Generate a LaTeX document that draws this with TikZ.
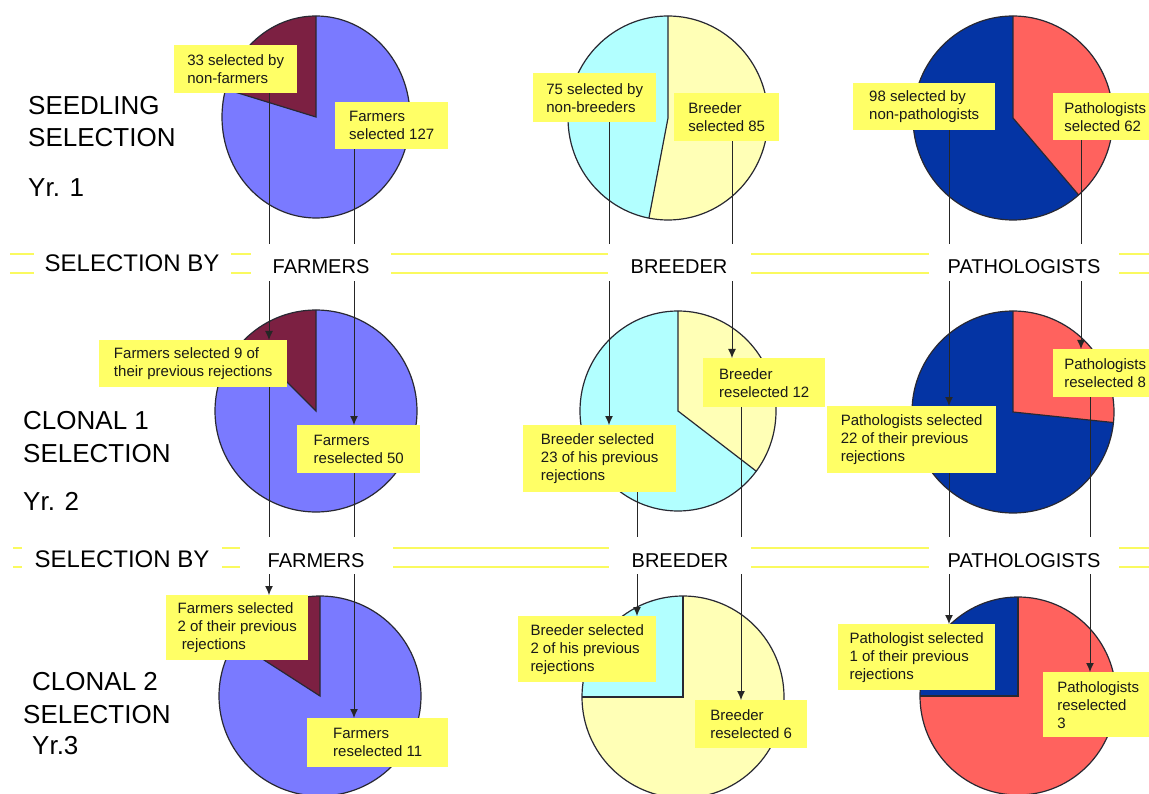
\documentclass[tikz,border=0pt]{standalone}
\usepackage{fontspec}
\setmainfont{Liberation Sans}
\usetikzlibrary{arrows.meta}
\definecolor{farmblue}{RGB}{122,122,255}
\definecolor{maroonc}{RGB}{124,32,66}
\definecolor{lcyan}{RGB}{178,255,255}
\definecolor{lyellow}{RGB}{255,255,182}
\definecolor{dblue}{RGB}{4,52,164}
\definecolor{salmon}{RGB}{255,98,94}
\definecolor{boxyellow}{RGB}{255,255,102}
\definecolor{sepyellow}{RGB}{250,250,95}
\definecolor{outline}{RGB}{40,40,50}
\tikzset{
 ybox/.style={fill=boxyellow, anchor=north west, align=left, inner sep=0pt, font=\fontsize{15}{18}\selectfont, text=black!90},
 conn/.style={draw=black!85, line width=1pt},
 arr/.style={conn, -{Latex[length=9pt,width=8pt]}},
 pieline/.style={draw=outline, line width=1.2pt},
 seprule/.style={draw=sepyellow, line width=2pt},
 role/.style={fill=white, anchor=base, font=\fontsize{20}{24}\selectfont, text height=23pt, text depth=0pt, inner ysep=7pt, inner xsep=0pt},
 selby/.style={role, font=\fontsize{24}{28}\selectfont},
 title/.style={anchor=base west, font=\fontsize{26}{30}\selectfont, inner sep=0pt},
}
\newcommand\mypie[7]{%
 \begin{scope}[shift={(#1,#2)},yscale=-1]
  \fill[#5] (0,0) ellipse[x radius=#3,y radius=#4];
  \fill[#6] (0,0) -- (90:#3 and #4) arc[start angle=90,end angle=#7,x radius=#3,y radius=#4] -- cycle;
  \draw[pieline] (0,0) ellipse[x radius=#3,y radius=#4];
  \draw[pieline] (90:#3 and #4) -- (0,0) -- (#7:#3 and #4);
 \end{scope}}
\begin{document}
\begin{tikzpicture}[x=1pt,y=-1pt]
\useasboundingbox[fill=white] (0,0) rectangle (1149,794);
% pies
\mypie{316}{117}{94}{101}{farmblue}{maroonc}{164}
\mypie{668}{118}{100}{102}{lyellow}{lcyan}{259}
\mypie{1013}{118}{100}{102}{dblue}{salmon}{-49}
\mypie{316}{411}{101}{101}{farmblue}{maroonc}{135}
\mypie{678}{411}{98}{100}{lcyan}{lyellow}{-37}
\mypie{1013}{412}{101}{101}{dblue}{salmon}{-6}
\mypie{320}{696}{101}{100}{farmblue}{maroonc}{147}
\mypie{683}{697}{101}{101}{lyellow}{lcyan}{180}
\mypie{1018}{696}{98}{99}{salmon}{dblue}{180}
% separator rules
\draw[seprule] (10,254) -- (1149,254);
\draw[seprule] (10,273) -- (1149,273);
\draw[seprule] (13,548) -- (1149,548);
\draw[seprule] (13,567) -- (1149,567);
% boxes row 1
\node[ybox, minimum width=123, minimum height=48] (A1) at (174,45) {33 selected by\\non-farmers};
\node[ybox, minimum width=113, minimum height=47] (A2) at (335,102) {Farmers\\selected 127};
\node[ybox, minimum width=123, minimum height=49] (A3) at (533,73) {75 selected by\\non-breeders};
\node[ybox, minimum width=105, minimum height=48] (A4) at (674,93) {Breeder\\selected 85};
\node[ybox, minimum width=142, minimum height=47] (A5) at (853,83) {98 selected by\\non-pathologists};
\node[ybox, minimum width=104, minimum height=47] (A6) at (1053,93) {Pathologists\\selected 62};
% boxes row 2
\node[ybox, minimum width=188, minimum height=47] (B1) at (99,340) {Farmers selected 9 of\\their previous rejections};
\node[ybox, minimum width=123, minimum height=48] (B2) at (297,425) {Farmers\\reselected 50};
\node[ybox, minimum width=153, minimum height=67] (B3) at (523,425) {Breeder selected\\23 of his previous\\rejections};
\node[ybox, minimum width=122, minimum height=49] (B4) at (703,358) {Breeder\\reselected 12};
\node[ybox, minimum width=169, minimum height=67] (B5) at (827,406) {Pathologists selected\\22 of their previous\\rejections};
\node[ybox, minimum width=104, minimum height=48] (B6) at (1053,349) {Pathologists\\reselected 8};
% boxes row 3
\node[ybox, minimum width=142, minimum height=65] (C1) at (166,595) {Farmers selected\\2 of their previous\\\ rejections};
\node[ybox, minimum width=141, minimum height=49] (C2) at (307,718) {Farmers\\reselected 11};
\node[ybox, minimum width=138, minimum height=66] (C3) at (518,616) {Breeder selected\\2 of his previous\\rejections};
\node[ybox, minimum width=112, minimum height=48] (C4) at (695,700) {Breeder\\reselected 6};
\node[ybox, minimum width=157, minimum height=66] (C5) at (838,624) {Pathologist selected\\1 of their previous\\rejections};
\node[ybox, minimum width=110, minimum height=65] (C6) at (1043,672) {Pathologists\\reselected\\3};
% connector x positions
\coordinate (xFL) at (269,0);
\coordinate (xFR) at (354,0);
\coordinate (xBLa) at (609,0);
\coordinate (xBLb) at (637,0);
\coordinate (xBRa) at (732,0);
\coordinate (xBRb) at (741,0);
\coordinate (xPL) at (949,0);
\coordinate (xPRa) at (1081,0);
\coordinate (xPRb) at (1090,0);
% connectors
\draw[arr] (A1.south -| xFL) -- (B1.north -| xFL);
\draw[arr] (A2.south -| xFR) -- (B2.north -| xFR);
\draw[arr] (B1.south -| xFL) -- (C1.north -| xFL);
\draw[arr] (B2.south -| xFR) -- (C2.north -| xFR);
\draw[arr] (A3.south -| xBLa) -- (B3.north -| xBLa);
\draw[arr] (A4.south -| xBRa) -- (B4.north -| xBRa);
\draw[arr] (B3.south -| xBLb) -- (C3.north -| xBLb);
\draw[arr] (B4.south -| xBRb) -- (C4.north -| xBRb);
\draw[arr] (A5.south -| xPL) -- (B5.north -| xPL);
\draw[arr] (A6.south -| xPRa) -- (B6.north -| xPRa);
\draw[arr] (B5.south -| xPL) -- (C5.north -| xPL);
\draw[arr] (B6.south -| xPRb) -- (C6.north -| xPRb);
% role labels
\node[selby, minimum width=197] (s1) at (132,272) {SELECTION BY};
\node[role, minimum width=140] (r1f) at (321,274) {FARMERS};
\node[role, minimum width=143] (r1b) at (679,274) {BREEDER};
\node[role, minimum width=190] (r1p) at (1024,274) {PATHOLOGISTS};
\node[selby, minimum width=200] (s2) at (122,567) {SELECTION BY};
\node[role, minimum width=153] (r2f) at (316,567) {FARMERS};
\node[role, minimum width=142] (r2b) at (680,567) {BREEDER};
\node[role, minimum width=190] (r2p) at (1024,567) {PATHOLOGISTS};
% titles
\node[title] (t1a) at (28,115) {SEEDLING};
\node[title] (t1b) at (28,147) {SELECTION};
\node[title] (t1c) at (28,197) {Yr. 1};
\node[title] (t2a) at (23,429) {CLONAL 1};
\node[title] (t2b) at (23,462) {SELECTION};
\node[title] (t2c) at (23,510) {Yr. 2};
\node[title] (t3a) at (32,690) {CLONAL 2};
\node[title] (t3b) at (23,723) {SELECTION};
\node[title] (t3c) at (32,754) {Yr.3};
\end{tikzpicture}
\end{document}
